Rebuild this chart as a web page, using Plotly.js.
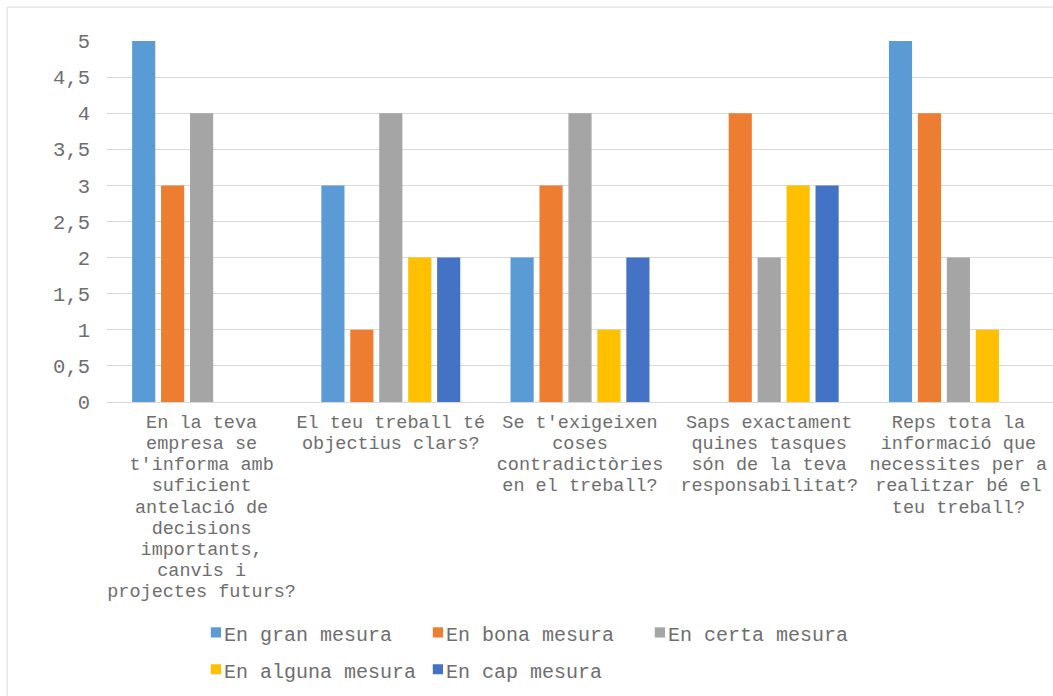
<!DOCTYPE html>
<html>
<head>
<meta charset="utf-8">
<script src="https://cdn.plot.ly/plotly-3.0.1.min.js"></script>
<style>
  html, body { margin: 0; padding: 0; background: #ffffff; }
  #chart { width: 1053px; height: 696px; }
</style>
</head>
<body>
<div id="chart"></div>
<script>
// ---- data ----
const categories = [
  "En la teva empresa se t'informa amb suficient antelació de decisions importants, canvis i projectes futurs?",
  "El teu treball té objectius clars?",
  "Se t'exigeixen coses contradictòries en el treball?",
  "Saps exactament quines tasques són de la teva responsabilitat?",
  "Reps tota la informació que necessites per a realitzar bé el teu treball?"
];
const tickLabels = [
  "En la teva<br>empresa se<br>t'informa amb<br>suficient<br>antelació de<br>decisions<br>importants,<br>canvis i<br>projectes futurs?",
  "El teu treball té<br>objectius clars?",
  "Se t'exigeixen<br>coses<br>contradictòries<br>en el treball?",
  "Saps exactament<br>quines tasques<br>són de la teva<br>responsabilitat?",
  "Reps tota la<br>informació que<br>necessites per a<br>realitzar bé el<br>teu treball?"
];
const seriesNames = ["En gran mesura", "En bona mesura", "En certa mesura", "En alguna mesura", "En cap mesura"];
const enGranMesura   = [5, 3, 2, 0, 5];
const enBonaMesura   = [3, 1, 3, 4, 4];
const enCertaMesura  = [4, 4, 4, 2, 2];
const enAlgunaMesura = [0, 2, 1, 3, 1];
const enCapMesura    = [0, 2, 2, 3, 0];
const seriesValues = [enGranMesura, enBonaMesura, enCertaMesura, enAlgunaMesura, enCapMesura];
const seriesColors = ["#5B9BD5", "#ED7D31", "#A5A5A5", "#FFC000", "#4472C4"];
const yTicks = [0, 0.5, 1, 1.5, 2, 2.5, 3, 3.5, 4, 4.5, 5];

// ---- chart ----
const FONT = '"Liberation Mono", "Courier New", monospace';
const TXT = '#6e6e6e';

const traces = seriesNames.map((name, i) => ({
  type: 'bar',
  name: name,
  x: categories,
  y: seriesValues[i],
  marker: { color: seriesColors[i], line: { width: 0 } },
  legend: i < 3 ? 'legend' : 'legend2',
  hoverinfo: 'y+name'
}));

const legendCommon = {
  orientation: 'h',
  xanchor: 'left',
  yanchor: 'top',
  x: 0.0813,
  font: { family: FONT, size: 20, color: TXT },
  entrywidth: 177,
  entrywidthmode: 'pixels',
  bgcolor: 'rgba(0,0,0,0)',
  itemclick: false,
  itemdoubleclick: false
};

const layout = {
  width: 1053,
  height: 696,
  margin: { l: 107, r: 0, t: 41, b: 294, pad: 0 },
  paper_bgcolor: '#ffffff',
  plot_bgcolor: '#ffffff',
  separators: ', ',
  barmode: 'group',
  bargap: 0.235,
  bargroupgap: 0.2,
  showlegend: true,
  font: { family: FONT, color: TXT },
  xaxis: {
    type: 'category',
    tickvals: categories,
    ticktext: tickLabels,
    tickangle: 0,
    ticks: '',
    showgrid: false,
    showline: true,
    linecolor: '#d9d9d9',
    linewidth: 1,
    zeroline: false,
    automargin: false,
    ticklabelstandoff: 3,
    tickfont: { family: FONT, size: 18.5, color: TXT }
  },
  yaxis: {
    range: [0, 5],
    tickvals: yTicks,
    ticks: '',
    showgrid: true,
    gridcolor: '#d9d9d9',
    gridwidth: 1,
    zeroline: false,
    showline: false,
    automargin: false,
    ticklabelstandoff: 16,
    tickfont: { family: FONT, size: 20.5, color: TXT }
  },
  legend: Object.assign({}, legendCommon, { y: -0.587 }),
  legend2: Object.assign({}, legendCommon, { y: -0.689 }),
  shapes: [{
    type: 'rect', xref: 'paper', yref: 'paper',
    x0: -0.1055, x1: 1.2, y0: -1.0, y1: 1.094,
    line: { color: '#d9d9d9', width: 1 },
    fillcolor: 'rgba(0,0,0,0)',
    layer: 'below'
  }]
};

Plotly.newPlot('chart', traces, layout, { displayModeBar: false, staticPlot: true }).then(function (gd) {
  // tighter line spacing for the multi-line category labels
  gd.querySelectorAll('.xtick text tspan.line').forEach(function (t) {
    const dy = parseFloat(t.getAttribute('dy'));
    if (!isNaN(dy) && dy !== 0) {
      t.setAttribute('dy', (dy / 1.3 * 1.14) + 'em');
    }
  });
  // legend swatches sit right next to their text, as in the reference (both legends)
  gd.querySelectorAll('.legendsymbols').forEach(function (g) {
    g.setAttribute('transform', 'translate(15,-1) scale(0.85)');
  });
});
</script>
</body>
</html>
